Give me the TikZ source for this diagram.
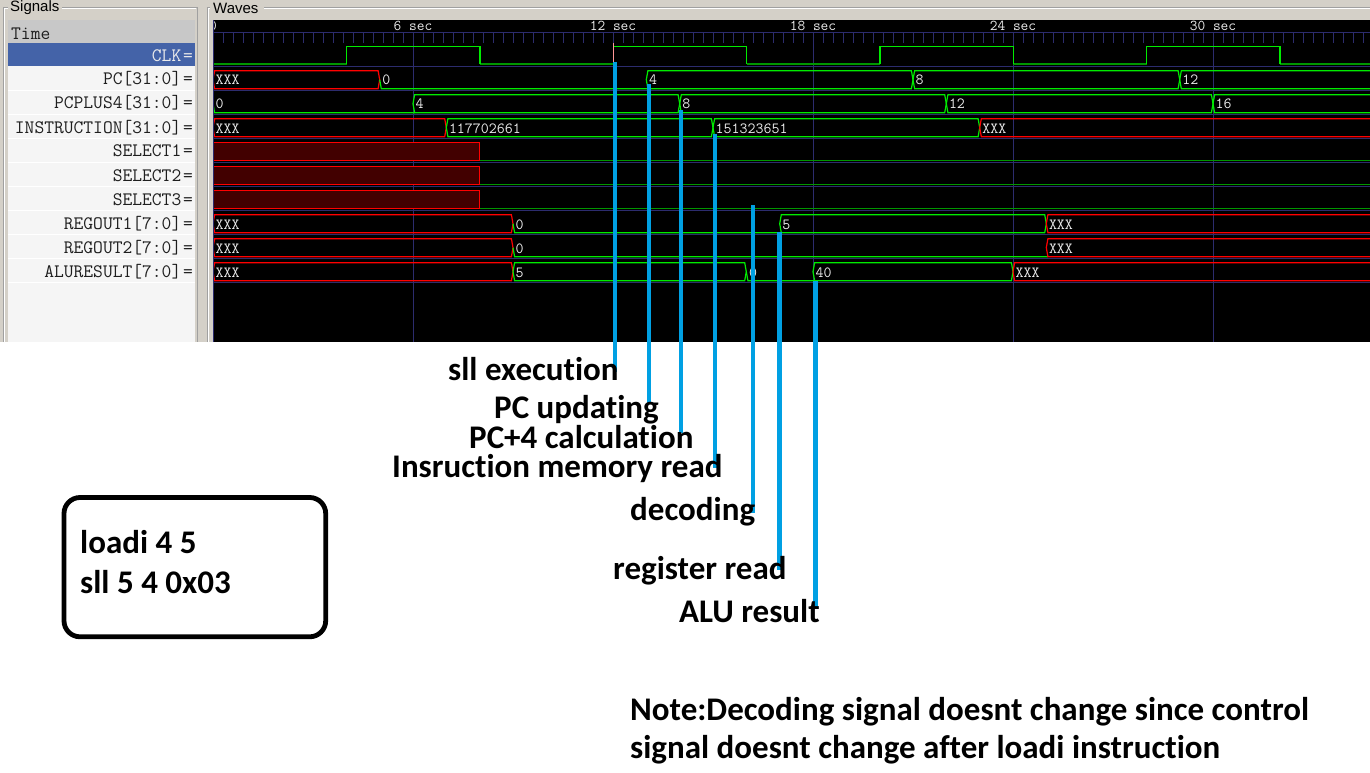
\documentclass[tikz,border=0pt]{standalone}
\usepackage{fontspec}
\setmainfont{Carlito}[Ligatures=NoCommon]
\newfontfamily\guifont{Liberation Sans}
\definecolor{guibg}{RGB}{212,208,200}
\definecolor{listbg}{RGB}{245,245,245}
\definecolor{timerow}{RGB}{200,200,200}
\definecolor{clkrow}{RGB}{68,99,168}
\definecolor{gridc}{RGB}{44,44,110}
\definecolor{wgreen}{RGB}{0,235,0}
\definecolor{wlow}{RGB}{0,150,0}
\definecolor{wred}{RGB}{255,0,0}
\definecolor{xfill}{RGB}{66,0,0}
\definecolor{annblue}{RGB}{0,160,227}
\definecolor{framec}{RGB}{160,160,160}
\definecolor{markerc}{RGB}{255,150,150}
\definecolor{namec}{RGB}{30,30,30}
\definecolor{valc}{RGB}{235,235,235}
% bus segment: start, end, row top, style
\newcommand\wseg[4]{\draw[#4] ({#1},{#3+11.7}) -- ({#1+1.6},{#3+2.7}) -- ({#2-1.6},{#3+2.7}) -- ({#2},{#3+11.7}) -- ({#2-1.6},{#3+20.7}) -- ({#1+1.6},{#3+20.7}) -- cycle;}
% zero-valued bus segment: start, end, row top
\newcommand\wzero[3]{\draw[busg] ({#1},{#3+11.7}) -- ({#1+1.6},{#3+20.7}) -- ({#2+1.6},{#3+20.7});}
\newcommand\wval[3]{\node[val] at ({#1+2.5},{#2+17}) {#3};}
\begin{document}
\begin{tikzpicture}[x=1pt,y=-1pt,
  busg/.style={draw=wgreen,line width=1.2pt},
  busr/.style={draw=wred,line width=1.2pt},
  lowl/.style={draw=wlow,line width=1.2pt},
  gridl/.style={draw=gridc,line width=1pt},
  val/.style={text=valc,anchor=base west,inner sep=0pt,font=\ttfamily\fontsize{15.5}{15.5}\selectfont},
  tlab/.style={text=valc,anchor=base,inner sep=0pt,font=\ttfamily\fontsize{15}{15}\selectfont},
  sname/.style={text=namec,anchor=base east,inner sep=0pt,font=\ttfamily\fontsize{19}{19}\selectfont},
  seq/.style={text=namec,anchor=base west,inner sep=0pt,font=\ttfamily\fontsize{19}{19}\selectfont},
  guilab/.style={text=black,anchor=west,inner sep=0pt,font=\guifont\fontsize{15}{15}\selectfont},
  ann/.style={text=black,anchor=base west,inner sep=0pt,font=\bfseries\fontsize{33}{38}\selectfont},
  annline/.style={draw=annblue,line width=4.5pt},
]
\useasboundingbox (0,0) rectangle (1370,773);
\fill[white] (0,0) rectangle (1370,773);
% ---------- GUI window ----------
\fill[guibg] (0,0) rectangle (1370,342);
\draw[framec,line width=1pt] (3,342) -- (3,8) -- (8,8) (62,8) -- (197,8) -- (197,342);
\draw[white,line width=1pt] (4,342) -- (4,9) -- (8,9) (62,9) -- (196,9);
\draw[framec,line width=1pt] (207,342) -- (207,8) -- (210,8) (264,8) -- (1370,8);
\draw[white,line width=1pt] (208,342) -- (208,9) -- (210,9) (264,9) -- (1370,9);
\node[guilab] (sigtitle) at (10,8) {Signals};
\node[guilab] (wavetitle) at (213,8) {Waves};
% ---------- signal list ----------
\fill[listbg] (8,20) rectangle (195,342);
\fill[timerow] (8,20) rectangle (195,42.7);
\fill[clkrow] (8,43.3) rectangle (195,66);
\foreach \yy in {90.5,114.5,...,282.5} \draw[white,line width=1.2pt] (8,\yy) -- (195,\yy);
\node[seq] (ntime) at (11,40) {Time};
\node[sname,text=white!92!black] (nclk) at (181.5,61.5) {CLK};
\node[seq,text=white!92!black] (eclk) at (183,61.5) {=};
\node[sname] (npc) at (181.5,85) {PC[31:0]};
\node[seq] (epc) at (183,85) {=};
\node[sname] (npc4) at (181.5,109) {PCPLUS4[31:0]};
\node[seq] (epc4) at (183,109) {=};
\node[sname] (nins) at (181.5,133) {INSTRUCTION[31:0]};
\node[seq] (eins) at (183,133) {=};
\node[sname] (ns1) at (181.5,157) {SELECT1};
\node[seq] (es1) at (183,157) {=};
\node[sname] (ns2) at (181.5,181) {SELECT2};
\node[seq] (es2) at (183,181) {=};
\node[sname] (ns3) at (181.5,205) {SELECT3};
\node[seq] (es3) at (183,205) {=};
\node[sname] (nr1) at (181.5,229) {REGOUT1[7:0]};
\node[seq] (er1) at (183,229) {=};
\node[sname] (nr2) at (181.5,253) {REGOUT2[7:0]};
\node[seq] (er2) at (183,253) {=};
\node[sname] (nalu) at (181.5,277) {ALURESULT[7:0]};
\node[seq] (ealu) at (183,277) {=};
% ---------- waves ----------
\begin{scope}
\clip (213,20) rectangle (1370,342);
\fill[black] (213,20) rectangle (1370,342);
\foreach \xx in {213,413,...,1213} \draw[gridl] (\xx,33) -- (\xx,342);
\foreach \i in {0,...,115} \draw[gridl] ({213+10*\i},33) -- ({213+10*\i},43);
\draw[gridl] (213,33) -- (1370,33);
\foreach \yy in {66.5,90.5,...,282.5} \draw[gridl] (213,\yy) -- (1370,\yy);
\node[tlab] (t0) at (213,31) {0};
\node[tlab] (t6) at (413,31) {6 sec};
\node[tlab] (t12) at (613,31) {12 sec};
\node[tlab] (t18) at (813,31) {18 sec};
\node[tlab] (t24) at (1013,31) {24 sec};
\node[tlab] (t30) at (1213,31) {30 sec};
% CLK
\draw[lowl] (213,64) -- (346.7,64) (480,64) -- (613.3,64) (746.7,64) -- (880,64) (1013.3,64) -- (1146.7,64) (1280,64) -- (1400,64);
\draw[busg] (213.5,46.5) -- (213.5,64)
  (346.7,64) -- (346.7,46.5) -- (480,46.5) -- (480,64)
  (613.3,64) -- (613.3,46.5) -- (746.7,46.5) -- (746.7,64)
  (880,64) -- (880,46.5) -- (1013.3,46.5) -- (1013.3,64)
  (1146.7,64) -- (1146.7,46.5) -- (1280,46.5) -- (1280,64);
% PC
\wseg{213}{379.7}{68}{busr}\wval{213}{68}{XXX}
\wzero{379.7}{646.3}{68}\wval{379.7}{68}{0}
\wseg{646.3}{913}{68}{busg}\wval{646.3}{68}{4}
\wseg{913}{1179.7}{68}{busg}\wval{913}{68}{8}
\wseg{1179.7}{1400}{68}{busg}\wval{1179.7}{68}{12}
% PCPLUS4
\wzero{213}{413}{92}\wval{213}{92}{0}
\wseg{413}{679.7}{92}{busg}\wval{413}{92}{4}
\wseg{679.7}{946.3}{92}{busg}\wval{679.7}{92}{8}
\wseg{946.3}{1213}{92}{busg}\wval{946.3}{92}{12}
\wseg{1213}{1400}{92}{busg}\wval{1213}{92}{16}
% INSTRUCTION
\wseg{213}{446.3}{116}{busr}\wval{213}{116}{XXX}
\wseg{446.3}{713}{116}{busg}\wval{446.3}{116}{117702661}
\wseg{713}{979.7}{116}{busg}\wval{713}{116}{151323651}
\wseg{979.7}{1400}{116}{busr}\wval{979.7}{116}{XXX}
% SELECT1-3
\foreach \rt in {140,164,188} {
  \draw[busr,fill=xfill] (212,\rt+2.7) rectangle (479.7,\rt+20.7);
  \draw[lowl] (479.7,\rt+20.3) -- (1400,\rt+20.3);
}
% REGOUT1
\wseg{213}{513}{212}{busr}\wval{213}{212}{XXX}
\wzero{513}{779.7}{212}\wval{513}{212}{0}
\wseg{779.7}{1046.3}{212}{busg}\wval{779.7}{212}{5}
\wseg{1046.3}{1400}{212}{busr}\wval{1046.3}{212}{XXX}
% REGOUT2
\wseg{213}{513}{236}{busr}\wval{213}{236}{XXX}
\wzero{513}{1046.3}{236}\wval{513}{236}{0}
\wseg{1046.3}{1400}{236}{busr}\wval{1046.3}{236}{XXX}
% ALURESULT
\wseg{213}{513}{260}{busr}\wval{213}{260}{XXX}
\wseg{513}{746.3}{260}{busg}\wval{513}{260}{5}
\wzero{746.3}{813}{260}\wval{746.3}{260}{0}
\wseg{813}{1013}{260}{busg}\wval{813}{260}{40}
\wseg{1013}{1400}{260}{busr}\wval{1013}{260}{XXX}
\draw[gridl] (213.5,20) -- (213.5,342);
\draw[markerc,line width=1pt] (613.3,43) -- (613.3,62);
\end{scope}
% ---------- annotations ----------
\coordinate (l1t) at (615,62);    \coordinate (l1b) at (615,372);
\coordinate (l2t) at (649,84);    \coordinate (l2b) at (649,403);
\coordinate (l3t) at (681,110);   \coordinate (l3b) at (681,433);
\coordinate (l4t) at (715,134);   \coordinate (l4b) at (715,468);
\coordinate (l5t) at (753,205);   \coordinate (l5b) at (753,513);
\coordinate (l6t) at (779.5,232); \coordinate (l6b) at (779.5,570);
\coordinate (l7t) at (815.5,281); \coordinate (l7b) at (815.5,608);
\foreach \k in {1,...,7} \draw[annline] (l\k t) -- (l\k b);
\node[ann] (a1) at (448,380) {sll execution};
\node[ann] (a2) at (494,418) {PC updating};
\node[ann] (a3) at (469,448) {PC+4 calculation};
\node[ann] (a4) at (392,477) {Insruction memory read};
\node[ann] (a5) at (630,520) {decoding};
\node[ann] (a6) at (613,579) {register read};
\node[ann] (a7) at (679,622) {ALU result};
% code box
\node[draw=black,line width=4.8pt,rounded corners=16pt,minimum width=261.7pt,minimum height=139.3pt,inner sep=0pt] (codebox) at (194.85,567.15) {};
\node[ann] (c1) at (80,553) {loadi 4 5};
\node[ann] (c2) at (80,593) {sll 5 4 0x03};
% note
\node[ann] (n1) at (630,720) {Note:Decoding signal doesnt change since control};
\node[ann] (n2) at (630,758) {signal doesnt change after loadi instruction};
\end{tikzpicture}
\end{document}
